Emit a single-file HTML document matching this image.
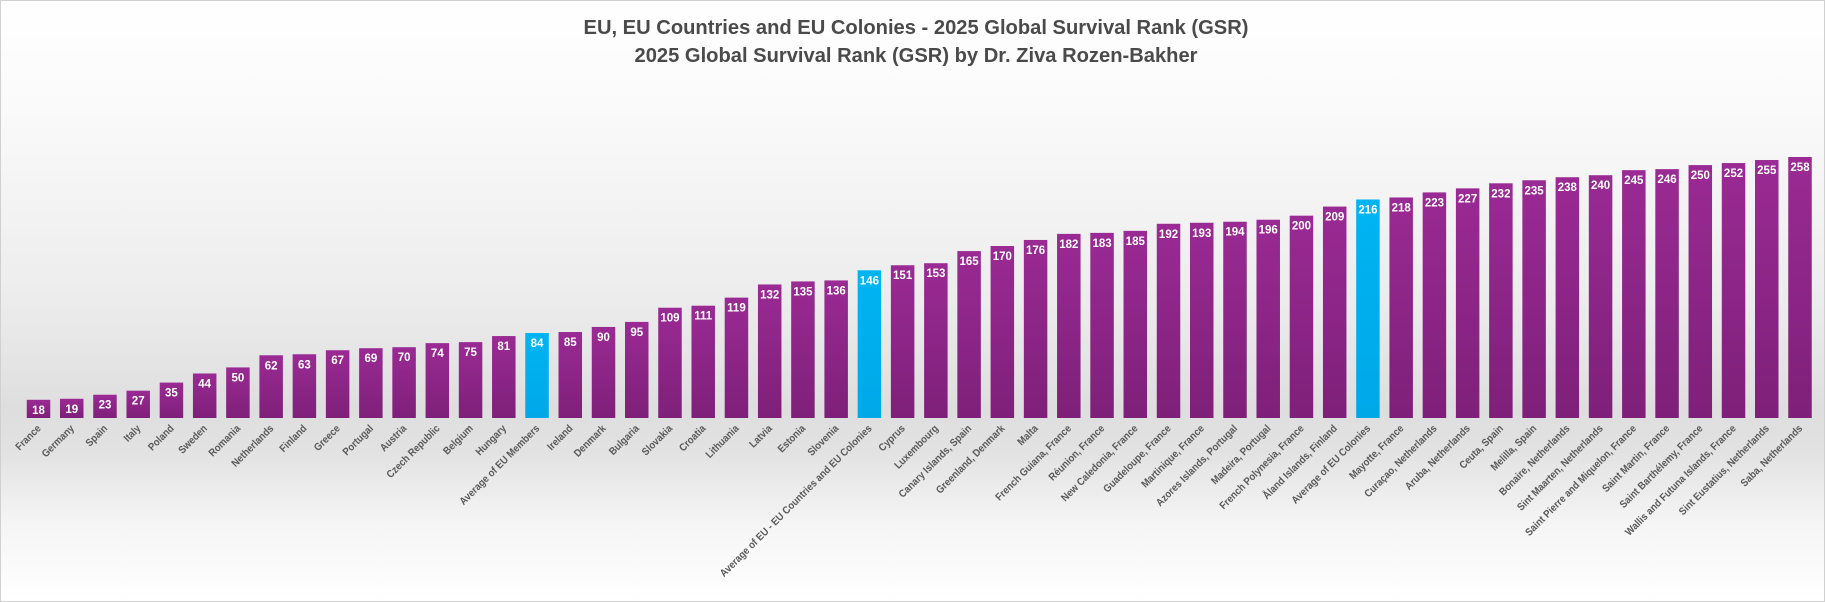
<!DOCTYPE html>
<html><head><meta charset="utf-8"><style>
html,body{margin:0;padding:0;background:#fff}
svg{display:block}
</style></head><body>
<svg id="chart" width="1825" height="602" viewBox="0 0 1825 602" xmlns="http://www.w3.org/2000/svg" font-family="Liberation Sans, sans-serif">
<defs>
<linearGradient id="bg" x1="0" y1="0" x2="0" y2="1">
<stop offset="0" stop-color="#ffffff"/>
<stop offset="0.18" stop-color="#fafafa"/>
<stop offset="0.5" stop-color="#ececec"/>
<stop offset="0.68" stop-color="#dedede"/>
<stop offset="0.75" stop-color="#e2e2e2"/>
<stop offset="0.88" stop-color="#f6f6f6"/>
<stop offset="1" stop-color="#ffffff"/>
</linearGradient>
<linearGradient id="pur" x1="0" y1="0" x2="0" y2="1">
<stop offset="0" stop-color="#9a2a94"/>
<stop offset="1" stop-color="#7e2079"/>
</linearGradient>
<linearGradient id="blu" x1="0" y1="0" x2="0" y2="1">
<stop offset="0" stop-color="#00b4f2"/>
<stop offset="1" stop-color="#00a8e8"/>
</linearGradient>
</defs>
<rect x="0.5" y="0.5" width="1824" height="601" fill="url(#bg)" stroke="#d0d0d0"/>
<text x="916" y="34" text-anchor="middle" font-size="20" font-weight="bold" fill="#4a4a4a" textLength="665" lengthAdjust="spacingAndGlyphs">EU, EU Countries and EU Colonies - 2025 Global Survival Rank (GSR)</text>
<text x="916" y="62" text-anchor="middle" font-size="20" font-weight="bold" fill="#4a4a4a" textLength="563" lengthAdjust="spacingAndGlyphs">2025 Global Survival Rank (GSR) by Dr. Ziva Rozen-Bakher</text>
<g id="bars"></g>
<g id="labels"></g>
</svg>
<script>
const categories = ["France","Germany","Spain","Italy","Poland","Sweden","Romania","Netherlands","Finland","Greece","Portugal","Austria","Czech Republic","Belgium","Hungary","Average of EU Members","Ireland","Denmark","Bulgaria","Slovakia","Croatia","Lithuania","Latvia","Estonia","Slovenia","Average of EU - EU Countries and EU Colonies","Cyprus","Luxembourg","Canary Islands, Spain","Greenland, Denmark","Malta","French Guiana, France","Réunion, France","New Caledonia, France","Guadeloupe, France","Martinique, France","Azores Islands, Portugal","Madeira, Portugal","French Polynesia, France","Åland Islands, Finland","Average of EU Colonies","Mayotte, France","Curaçao, Netherlands","Aruba, Netherlands","Ceuta, Spain","Melilla, Spain","Bonaire, Netherlands","Sint Maarten, Netherlands","Saint Pierre and Miquelon, France","Saint Martin, France","Saint Barthélemy, France","Wallis and Futuna Islands, France","Sint Eustatius, Netherlands","Saba, Netherlands"];
const values = [18,19,23,27,35,44,50,62,63,67,69,70,74,75,81,84,85,90,95,109,111,119,132,135,136,146,151,153,165,170,176,182,183,185,192,193,194,196,200,209,216,218,223,227,232,235,238,240,245,246,250,252,255,258];
const highlighted = ["Average of EU Members","Average of EU - EU Countries and EU Colonies","Average of EU Colonies"];

const NS = "http://www.w3.org/2000/svg";
const x0 = 38.5, step = (1800 - 38.5) / 53, barW = 23.5;
const baseY = 418, unit = (418 - 157) / 258;
function xScale(i){ return x0 + i * step; }
function yScale(v){ return baseY - v * unit; }
const gb = document.getElementById('bars'), gl = document.getElementById('labels');
categories.forEach((c, i) => {
  const v = values[i];
  const cx = xScale(i), y = yScale(v);
  const r = document.createElementNS(NS, 'rect');
  r.setAttribute('x', (cx - barW/2).toFixed(2));
  r.setAttribute('y', y.toFixed(2));
  r.setAttribute('width', barW);
  r.setAttribute('height', (baseY - y).toFixed(2));
  r.setAttribute('fill', highlighted.includes(c) ? 'url(#blu)' : 'url(#pur)');
  
  
  gb.appendChild(r);
  const t = document.createElementNS(NS, 'text');
  t.setAttribute('x', cx.toFixed(2));
  t.setAttribute('y', (y + 14).toFixed(2));
  t.setAttribute('text-anchor', 'middle');
  t.setAttribute('font-size', '11.5');
  t.setAttribute('font-weight', 'bold');
  t.setAttribute('fill', '#ffffff');
  t.textContent = v;
  
  
  gb.appendChild(t);
  const l = document.createElementNS(NS, 'text');
  l.setAttribute('transform', 'translate(' + (cx + 3).toFixed(2) + ',' + (baseY + 11) + ') rotate(-45) scale(0.9,1)');
  l.setAttribute('text-anchor', 'end');
  l.setAttribute('font-size', '10.5');
  l.setAttribute('font-weight', 'bold');
  l.setAttribute('fill', '#595959');
  l.textContent = c;
  
  
  gl.appendChild(l);
});
</script>
</body></html>
